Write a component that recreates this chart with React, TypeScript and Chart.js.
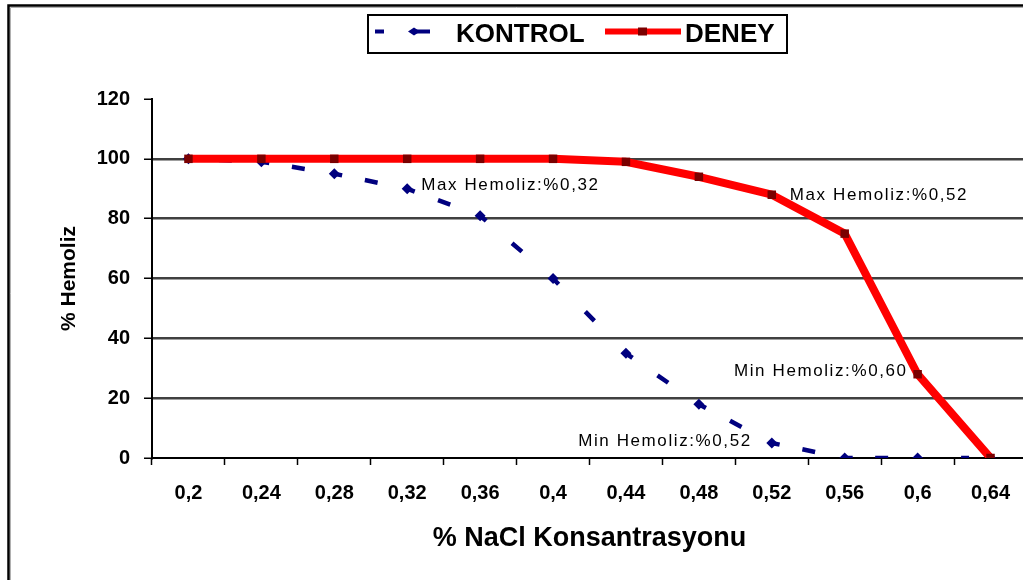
import React, { useEffect, useRef } from 'react';
import { Chart, registerables } from 'chart.js';

Chart.register(...registerables);

const categories = ['0,2', '0,24', '0,28', '0,32', '0,36', '0,4', '0,44', '0,48', '0,52', '0,56', '0,6', '0,64'];
const kontrolValues = [100, 99, 95, 90, 81, 60, 35, 18, 5, 0, 0, 0];
const deneyValues = [100, 100, 100, 100, 100, 100, 99, 94, 88, 75, 28, 0];
const yMin = 0;
const yMax = 120;
const yStep = 20;
const seriesNames = ['KONTROL', 'DENEY'];
const xTitle = '% NaCl Konsantrasyonu';
const yTitle = '% Hemoliz';
const noteTexts = ['Max Hemoliz:%0,32', 'Max Hemoliz:%0,52', 'Min Hemoliz:%0,60', 'Min Hemoliz:%0,52'];
const noteSeries = [0, 1, 1, 0];
const noteIndex = [3, 8, 10, 8];

const FONT = "'Liberation Sans', Arial, sans-serif";
const BLUE = '#00007f';
const RED = '#ff0000';
const DARKRED = '#7a0000';
// plot area extends a little past the right edge of the picture
const PLOT_RIGHT = 1027;

// placement of the notes relative to their anchor point (style)
const noteOffsets = [
  { dx: 14, dy: -3, align: 'left' },
  { dx: 18, dy: 1, align: 'left' },
  { dx: -10, dy: -3, align: 'right' },
  { dx: -20, dy: -2, align: 'right' },
];

const framePlugin = {
  id: 'frameAndDecor',
  afterLayout(chart: any) {
    const xs = chart.scales.x;
    chart.chartArea.right = PLOT_RIGHT;
    chart.chartArea.width = PLOT_RIGHT - chart.chartArea.left;
    xs.right = PLOT_RIGHT;
    xs.width = PLOT_RIGHT - xs.left;
    xs.configure();
  },
  beforeDraw(chart: any) {
    const ctx = chart.ctx;
    ctx.save();
    ctx.fillStyle = '#ffffff';
    ctx.fillRect(0, 0, chart.width, chart.height);
    ctx.strokeStyle = '#b0b0b0';
    ctx.lineWidth = 1;
    ctx.beginPath();
    ctx.moveTo(10.5, chart.height);
    ctx.lineTo(10.5, 7.5);
    ctx.lineTo(chart.width, 7.5);
    ctx.stroke();
    ctx.strokeStyle = '#000000';
    ctx.lineWidth = 2.5;
    ctx.beginPath();
    ctx.moveTo(8.5, chart.height);
    ctx.lineTo(8.5, 5.5);
    ctx.lineTo(chart.width, 5.5);
    ctx.stroke();
    ctx.restore();
  },
  afterDraw(chart: any) {
    const ctx = chart.ctx;
    const xs = chart.scales.x;
    const ys = chart.scales.y;
    ctx.save();
    // annotations
    ctx.fillStyle = '#000';
    ctx.font = `17px ${FONT}`;
    try { (ctx as any).letterSpacing = '1.6px'; } catch (e) {}
    ctx.textBaseline = 'middle';
    noteTexts.forEach((t, i) => {
      const vals = noteSeries[i] === 0 ? kontrolValues : deneyValues;
      const px = xs.getPixelForValue(noteIndex[i]);
      const py = ys.getPixelForValue(vals[noteIndex[i]]);
      const o = noteOffsets[i];
      ctx.textAlign = o.align;
      ctx.fillText(t, px + o.dx, py + o.dy);
    });
    try { (ctx as any).letterSpacing = '0px'; } catch (e) {}

    // legend
    const bx = 368, by = 15, bw = 419, bh = 38;
    ctx.fillStyle = '#ffffff';
    ctx.fillRect(bx, by, bw, bh);
    ctx.strokeStyle = '#000';
    ctx.lineWidth = 2;
    ctx.strokeRect(bx, by, bw, bh);
    const ly = 31.5;
    ctx.strokeStyle = BLUE;
    ctx.lineWidth = 4;
    ctx.beginPath();
    ctx.moveTo(375, ly); ctx.lineTo(384, ly);
    ctx.moveTo(414, ly); ctx.lineTo(430, ly);
    ctx.stroke();
    ctx.fillStyle = BLUE;
    ctx.beginPath();
    ctx.moveTo(408, ly); ctx.lineTo(414, ly - 4); ctx.lineTo(420, ly); ctx.lineTo(414, ly + 4);
    ctx.closePath();
    ctx.fill();
    ctx.fillStyle = '#000';
    ctx.font = `bold 26px ${FONT}`;
    ctx.textAlign = 'left';
    ctx.textBaseline = 'middle';
    ctx.fillText(seriesNames[0], 456, 35);
    ctx.strokeStyle = RED;
    ctx.lineWidth = 6;
    ctx.beginPath();
    ctx.moveTo(605, ly); ctx.lineTo(681, ly);
    ctx.stroke();
    ctx.fillStyle = DARKRED;
    ctx.fillRect(638, ly - 4, 9, 8);
    ctx.fillStyle = '#000';
    ctx.fillText(seriesNames[1], 685, 35);
    ctx.restore();
  },
};

export default function App() {
  const ref = useRef<HTMLCanvasElement | null>(null);
  useEffect(() => {
    if (!ref.current) return;
    const chart = new Chart(ref.current, {
      type: 'line',
      data: {
        labels: categories,
        datasets: [
          {
            label: seriesNames[0],
            data: kontrolValues,
            borderColor: BLUE,
            backgroundColor: BLUE,
            borderWidth: 4.5,
            borderCapStyle: 'butt',
            pointStyle: 'rectRot',
            pointRadius: 5.5,
            pointBorderWidth: 0,
            pointBackgroundColor: BLUE,
            tension: 0,
            order: 1,
            segment: {
              borderDash: (c: any) => {
                const L = Math.hypot(c.p1.x - c.p0.x, c.p1.y - c.p0.y);
                return [8, Math.max(1, L / 2 - 14), 13, L];
              },
            },
          },
          {
            label: seriesNames[1],
            data: deneyValues,
            borderColor: RED,
            backgroundColor: DARKRED,
            borderWidth: 8,
            borderJoinStyle: 'round',
            pointStyle: 'rect',
            pointRadius: 6,
            pointBorderWidth: 0,
            pointBackgroundColor: DARKRED,
            tension: 0,
            order: 0,
          },
        ],
      },
      options: {
        animation: false,
        responsive: false,
        events: [],
        layout: { padding: { left: 50, top: 99, right: 0, bottom: 0 } },
        plugins: { legend: { display: false }, tooltip: { enabled: false }, title: { display: false } },
        scales: {
          x: {
            type: 'category',
            offset: true,
            grid: {
              offset: true,
              drawOnChartArea: false,
              drawTicks: true,
              tickLength: 7,
              tickColor: '#000',
              tickWidth: 1.5,
            },
            border: { display: true, color: '#000', width: 2 },
            ticks: {
              color: '#000',
              font: { family: FONT, size: 20, weight: 'bold' },
              padding: 16,
              maxRotation: 0,
              autoSkip: false,
            },
            title: {
              display: true,
              text: xTitle,
              color: '#000',
              font: { family: FONT, size: 27, weight: 'bold' },
              padding: { top: 0, bottom: 25 },
            },
            afterFit: (s: any) => { s.height = 122; },
          },
          y: {
            min: yMin,
            max: yMax,
            ticks: {
              stepSize: yStep,
              color: '#000',
              font: { family: FONT, size: 20, weight: 'bold' },
              padding: 14,
            },
            grid: {
              color: (c: any) => (c.tick && (c.tick.value === yMin || c.tick.value === yMax) ? 'rgba(0,0,0,0)' : '#404040'),
              lineWidth: 2.5,
              drawTicks: true,
              tickLength: 8,
              tickColor: '#000',
              tickWidth: 1.5,
            },
            border: { display: true, color: '#000', width: 2 },
            title: {
              display: true,
              text: yTitle,
              color: '#000',
              font: { family: FONT, size: 21, weight: 'bold' },
              padding: { top: 7, bottom: 0 },
            },
            afterFit: (s: any) => { s.width = 102; },
          },
        },
      },
      plugins: [framePlugin],
    } as any);
    return () => chart.destroy();
  }, []);
  return (
    <div style={{ position: 'fixed', left: 0, top: 0, width: 1023, height: 580, background: '#fff' }}>
      <canvas ref={ref} width={1023} height={580} />
    </div>
  );
}
